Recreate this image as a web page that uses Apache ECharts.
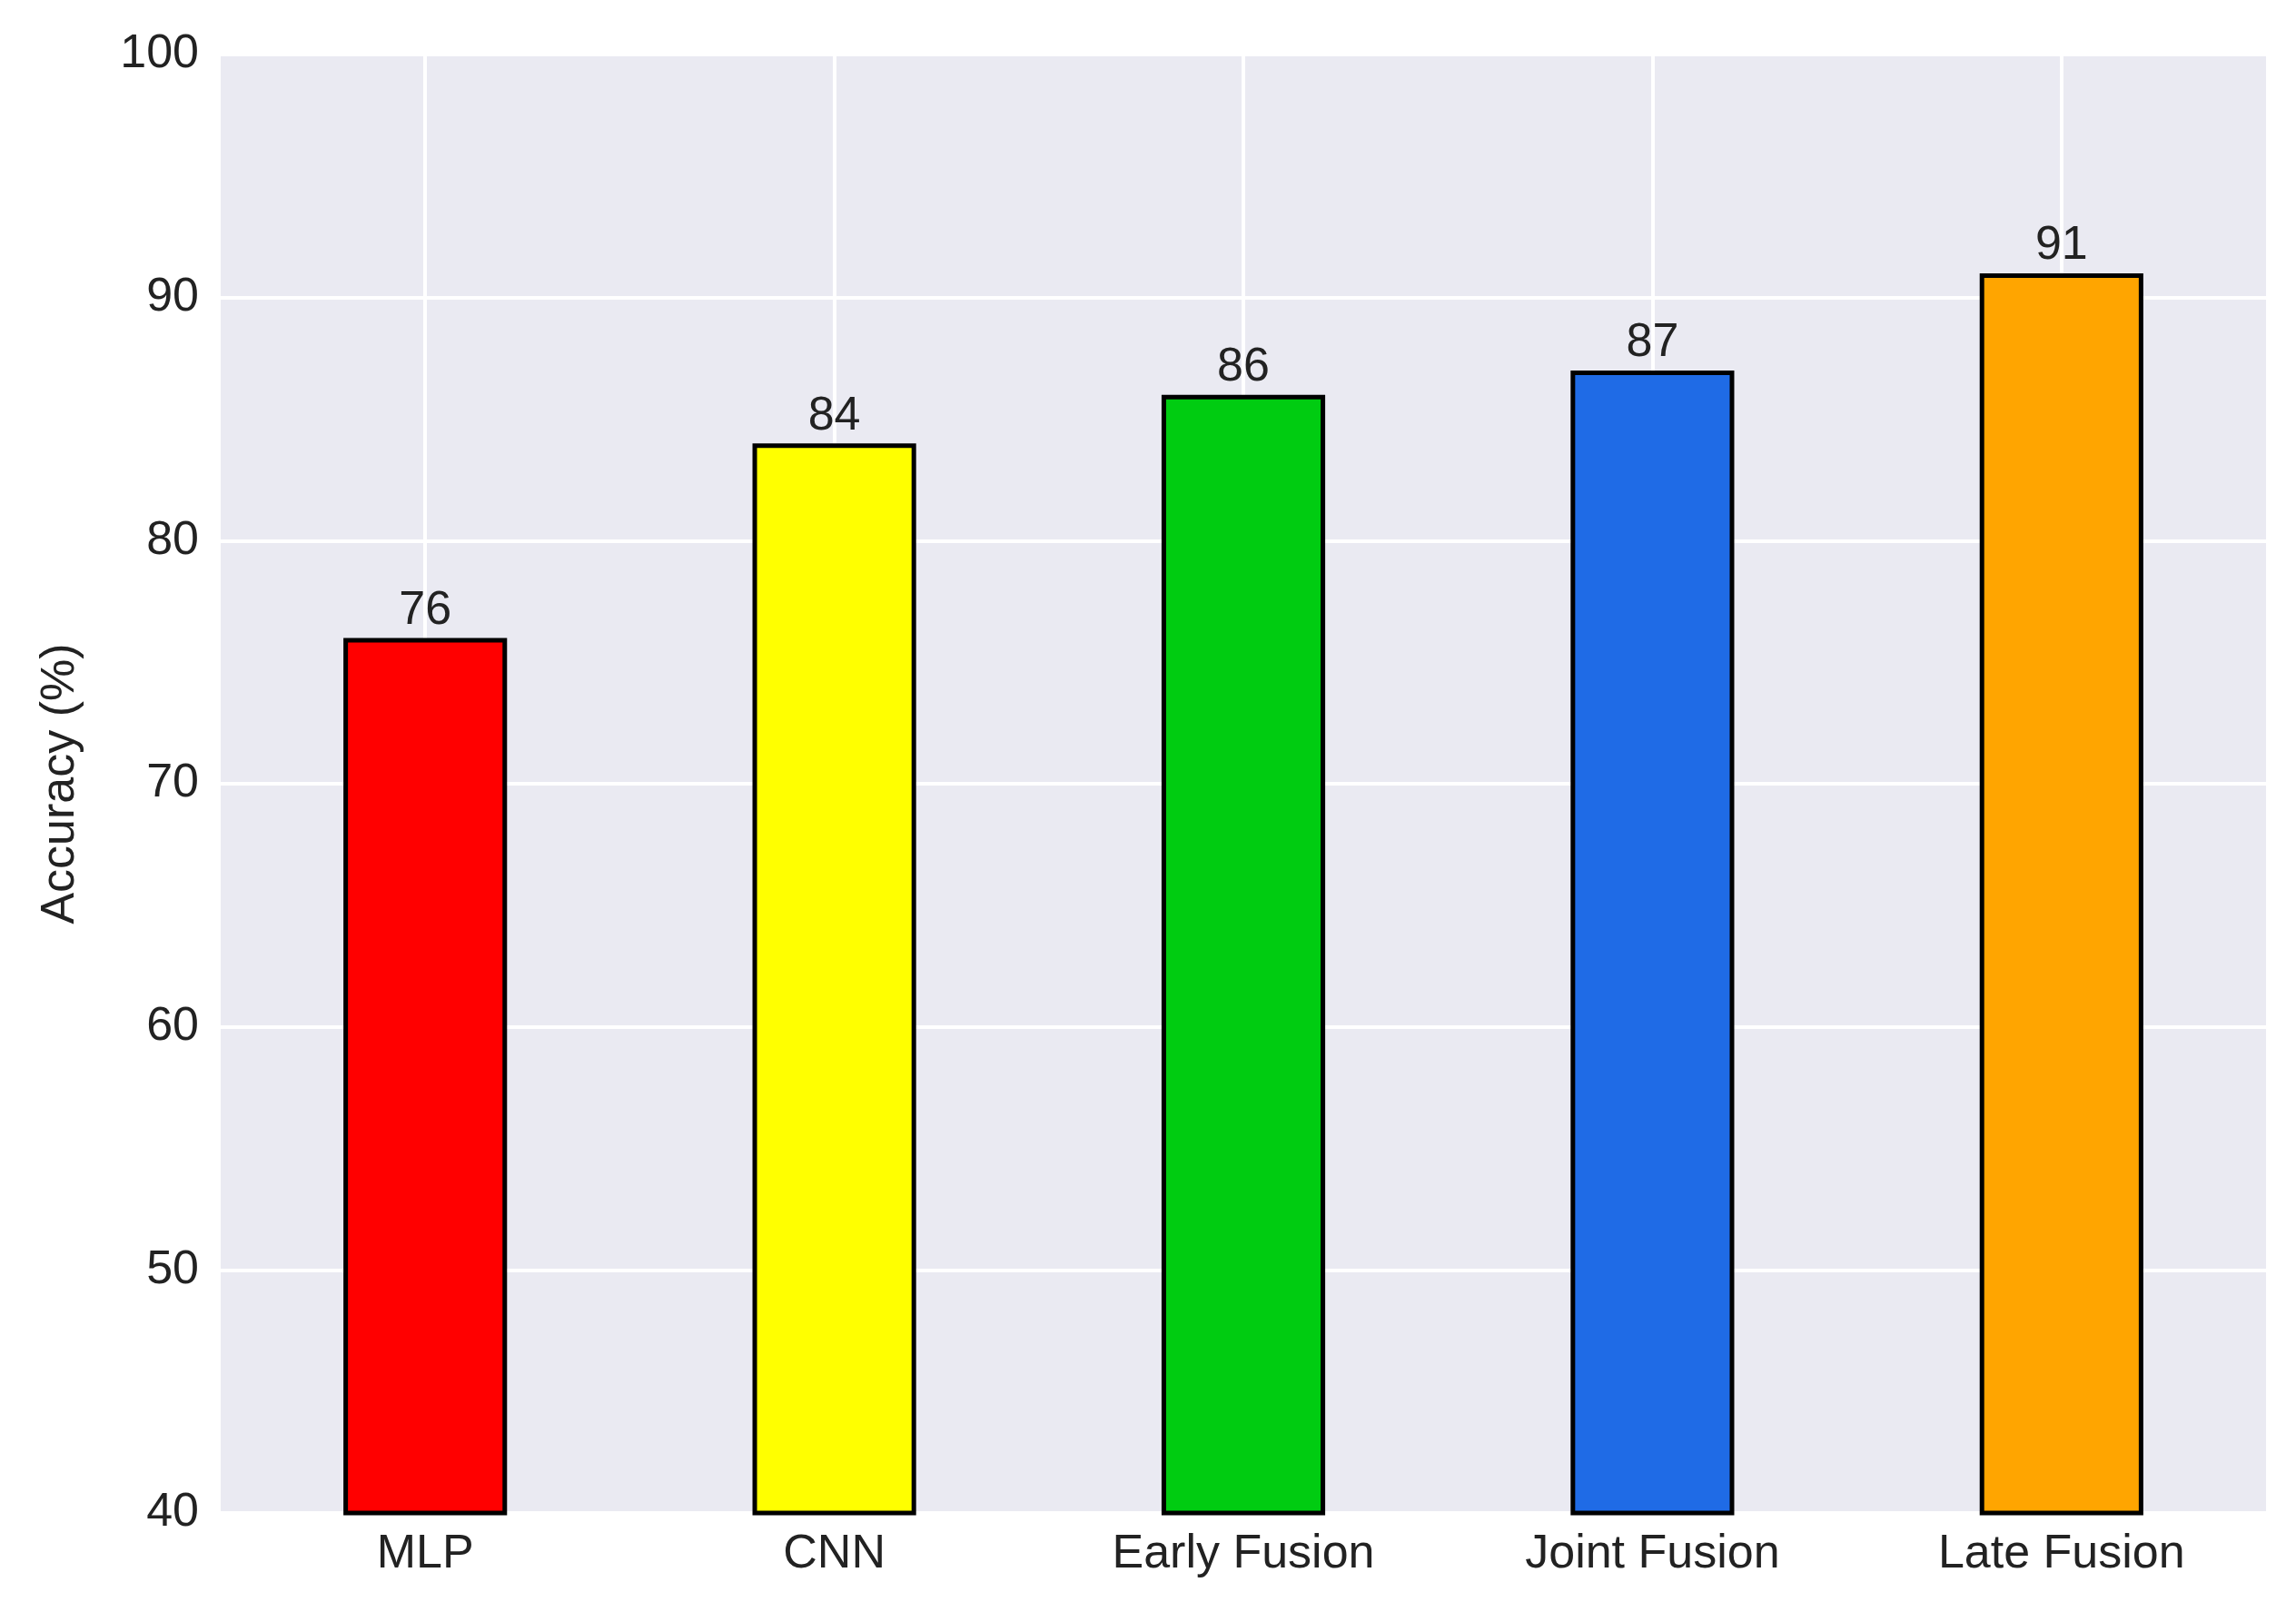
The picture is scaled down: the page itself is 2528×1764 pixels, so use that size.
<!DOCTYPE html>
<html><head><meta charset="utf-8">
<script src="https://cdn.jsdelivr.net/npm/echarts@6/dist/echarts.min.js"></script>
<style>html,body{margin:0;background:#fff}#c{width:2528px;height:1764px}</style>
</head><body><div id="c"></div>
<script>
const categories = ['MLP','CNN','Early Fusion','Joint Fusion','Late Fusion'];
const values = [76,84,86,87,91];
const colors = ['#ff0000','#ffff00','#00cc11','#1f6be6','#ffa500'];
const font = 'Liberation Sans, Arial, sans-serif';
const chart = echarts.init(document.getElementById('c'));
chart.setOption({
  animation:false,
  grid:{left:243,right:33,top:60,bottom:98,show:true,backgroundColor:'#eaeaf2',borderWidth:0},
  xAxis:{type:'category',data:categories,axisLine:{show:false},axisTick:{show:false},
    axisLabel:{fontSize:52,color:'#222',fontFamily:font,margin:20},splitLine:{show:false}},
  yAxis:{type:'value',min:40,max:100,interval:10,name:'Accuracy (%)',nameLocation:'middle',nameGap:150,
    nameTextStyle:{fontSize:52,color:'#222',fontFamily:font},
    axisLine:{show:false},axisTick:{show:false},
    axisLabel:{fontSize:52,color:'#222',fontFamily:font,margin:24},
    splitLine:{lineStyle:{color:'#fff',width:4}}},
  series:[{type:'bar',barWidth:'40%',z:3,
    data:values.map((v,i)=>({value:v,itemStyle:{color:colors[i]}})),
    itemStyle:{borderColor:'#000',borderWidth:5},
    label:{show:true,position:'top',distance:4,fontSize:52,color:'#222',fontFamily:font},
    markLine:{silent:true,symbol:'none',z:1,label:{show:false},lineStyle:{color:'#fff',width:4,type:'solid'},
      data:categories.map(c=>({xAxis:c}))}
  }]
});
</script></body></html>
